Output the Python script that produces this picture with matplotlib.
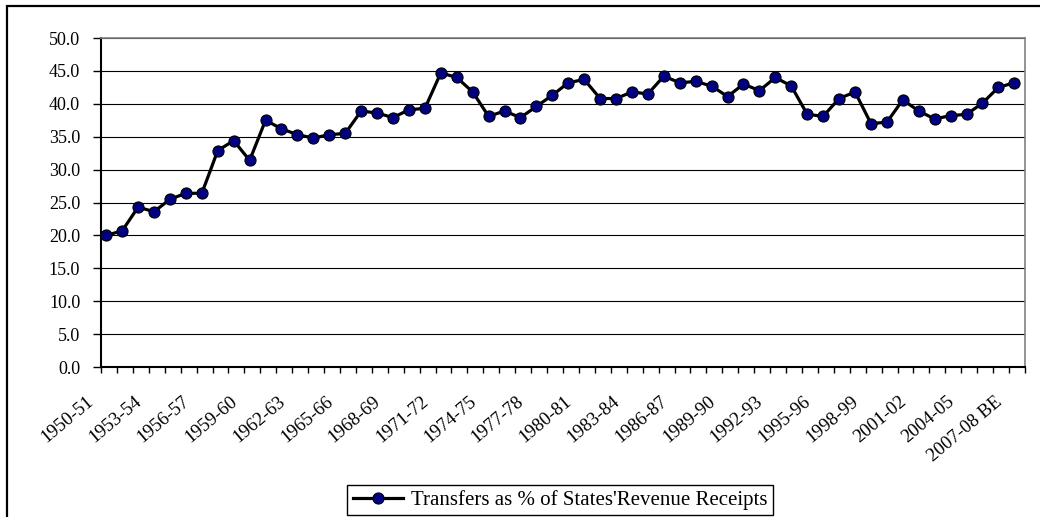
import numpy as np
import matplotlib
matplotlib.use('Agg')
import matplotlib.pyplot as plt
import matplotlib.patches as patches
import matplotlib.transforms as mtransforms

# Financial years shown on the category axis
years = [f'{y}-{str(y + 1)[-2:]}' for y in range(1950, 2007)] + ['2007-08 BE']

# Transfers as % of states' revenue receipts
transfers = [20.0, 20.7, 24.3, 23.6, 25.5, 26.4, 26.4, 32.9, 34.4, 31.4,
             37.5, 36.2, 35.3, 34.8, 35.3, 35.5, 38.9, 38.6, 37.9, 39.1,
             39.3, 44.7, 44.0, 41.8, 38.1, 38.9, 37.9, 39.6, 41.3, 43.2,
             43.7, 40.8, 40.8, 41.8, 41.5, 44.2, 43.2, 43.4, 42.7, 41.1,
             43.0, 42.0, 44.0, 42.7, 38.4, 38.1, 40.8, 41.8, 37.0, 37.2,
             40.6, 38.9, 37.7, 38.2, 38.4, 40.1, 42.5, 43.2]

series_label = "Transfers as % of States'Revenue Receipts"

plt.rcParams['font.family'] = ['Liberation Serif', 'DejaVu Serif']

W, H = 1040, 517
fig = plt.figure(figsize=(W / 100, H / 100), dpi=100)

# Outer chart area frame (only top and left edges visible)
frame = patches.Rectangle((7 / W, -0.2), 1.3, 0.2 + (H - 6) / H,
                          transform=fig.transFigure, fill=False,
                          edgecolor='black', linewidth=1.6, clip_on=False)
fig.patches.append(frame)

left, right, top, bottom = 101, 1025, 38, 367
ax = fig.add_axes([left / W, (H - bottom) / H, (right - left) / W, (bottom - top) / H])

x = np.arange(len(years))
ax.plot(x, transfers, color='black', linewidth=2.3, marker='o', markersize=8,
        markerfacecolor='#000080', markeredgecolor='black', markeredgewidth=0.8,
        label=series_label, zorder=3)

# Axes limits and ticks
x0 = -0.33
ax.set_xlim(x0, len(years) - 1 + 0.55)
ax.set_ylim(0, 50)
ax.set_yticks(np.arange(0, 50.1, 5))
ax.set_yticklabels([f'{v:.1f}' for v in np.arange(0, 50.1, 5)], fontsize=13)
ax.yaxis.grid(True, color='black', linewidth=0.8)
ax.set_axisbelow(True)

ax.set_xticks(x[::3])
ax.set_xticklabels([years[i] for i in x[::3]], fontsize=13.5, rotation=40,
                   ha='right', va='top', rotation_mode='anchor')
ax.set_xticks(np.arange(len(years) + 1) + x0, minor=True)
ax.tick_params(axis='x', which='major', length=0, pad=0)
ax.tick_params(axis='x', which='minor', length=4, width=1, direction='out')
ax.tick_params(axis='y', length=6, width=1, direction='out', pad=9)
# Excel places the rotated labels a little left of and below each category
offset = mtransforms.ScaledTranslation(-20 / 100, -26 / 100, fig.dpi_scale_trans)
for lab in ax.get_xticklabels():
    lab.set_transform(lab.get_transform() + offset)

for side in ['left', 'bottom']:
    ax.spines[side].set_color('black')
    ax.spines[side].set_linewidth(1.5)
for side in ['top', 'right']:
    ax.spines[side].set_color('#808080')
    ax.spines[side].set_linewidth(1.2)

fig.legend(loc='center', bbox_to_anchor=(560 / W, 17 / H), fontsize=15,
           frameon=True, fancybox=False, edgecolor='black', framealpha=1,
           handlelength=2.4, borderpad=0.25, handletextpad=0.4)
fig.legends[0].get_frame().set_linewidth(1.0)

fig.savefig('out.png', dpi=100)
